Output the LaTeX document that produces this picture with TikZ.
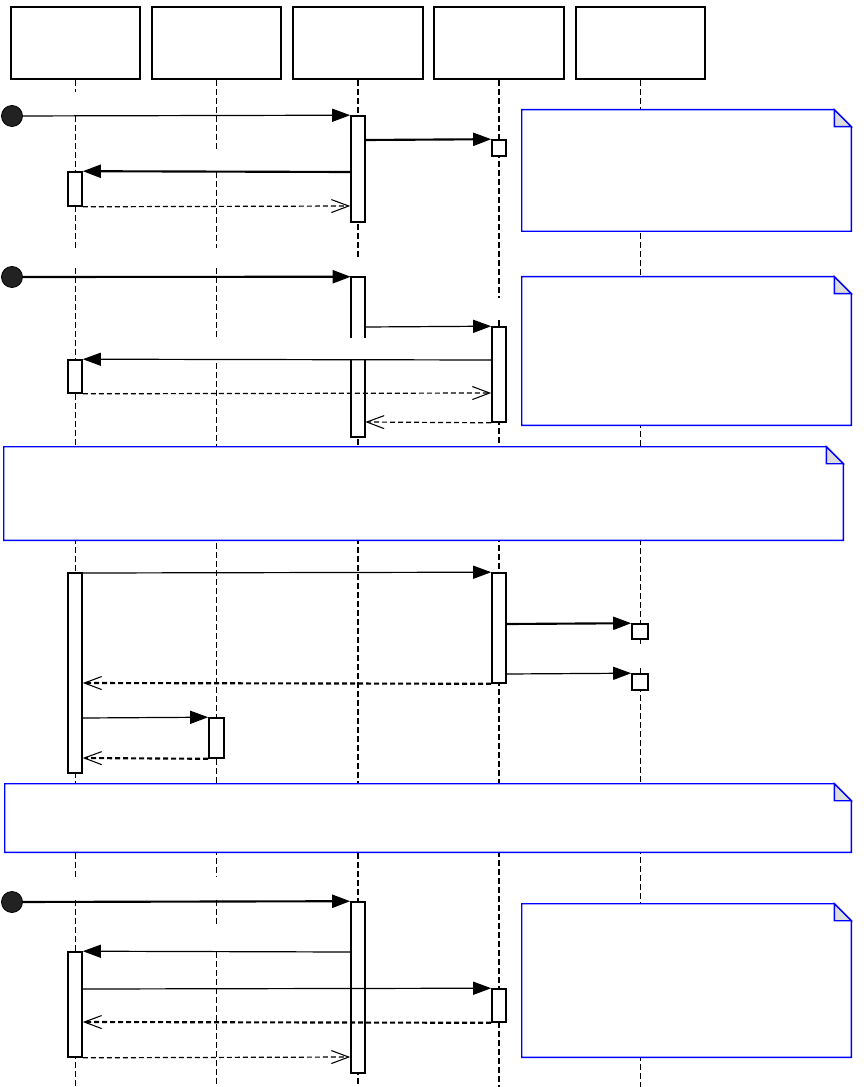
\documentclass[tikz,border=0pt]{standalone}
\usetikzlibrary{arrows.meta,fit}
\definecolor{noteblue}{RGB}{0,0,255}
\definecolor{foldgray}{RGB}{221,221,221}
\definecolor{startfill}{RGB}{34,34,34}
\tikzset{
  participant/.style={draw=black, line width=1.4pt, fill=white, inner sep=0pt},
  actbox/.style={draw=black, line width=1.2pt, fill=white, inner sep=0pt},
  actfill/.style={fill=white, inner sep=0pt},
  actline/.style={draw=black, line width=1.2pt},
  lifeline/.style={draw=black, line width=1.4pt, dash pattern=on 4.5pt off 2.25pt},
  lifethin/.style={draw=black, line width=0.9pt, dash pattern=on 4.5pt off 2.25pt},
  startdot/.style={circle, draw=black, fill=startfill, minimum size=15.75pt, inner sep=0pt, line width=0.6pt},
  msg/.style={draw=black, line width=0.9pt, -{Triangle[length=13.5pt,width=9.75pt]}},
  msgbold/.style={msg, line width=1.6pt},
  reply/.style={draw=black, line width=0.9pt, dash pattern=on 3.75pt off 2.25pt,
    -{Straight Barb[length=13pt,width=9.75pt,line width=0.8pt]}},
  replybold/.style={reply, line width=1.6pt},
  notebody/.style={draw=noteblue, line width=1.1pt, fill=white, line join=miter},
  notefold/.style={draw=noteblue, line width=1.1pt, fill=foldgray, line join=miter},
  noteframe/.style={inner sep=0pt},
}
\newcommand\umlnote[1]{%
  \draw[notebody] (#1.north west) -- ([xshift=-12.75pt]#1.north east)
    -- ([yshift=-12.75pt]#1.north east) -- (#1.south east) -- (#1.south west) -- cycle;
  \draw[notefold] ([xshift=-12.75pt]#1.north east) -- ([xshift=-12.75pt,yshift=-12.75pt]#1.north east)
    -- ([yshift=-12.75pt]#1.north east) -- cycle;
}
\begin{document}
\begin{tikzpicture}[x=0.75pt,y=-0.75pt]
\useasboundingbox (0,0) rectangle (863,1087);

% participants
\node[participant, fit={(11,7)(140,79)}] (P1) {};
\node[participant, fit={(152,7)(281,79)}] (P2) {};
\node[participant, fit={(293,7)(423,79)}] (P3) {};
\node[participant, fit={(434,7)(564,79)}] (P4) {};
\node[participant, fit={(576,7)(705,79)}] (P5) {};

% lifelines (with gaps)
\draw[lifeline] (P1.south) -- (P1.south |- 0,92)
  (P1.south |- 0,116) -- (P1.south |- 0,248)
  (P1.south |- 0,268) -- (P1.south |- 0,877)
  (P1.south |- 0,900) -- (P1.south |- 0,1087);
\draw[lifeline] (P2.south) -- (P2.south |- 0,150)
  (P2.south |- 0,172) -- (P2.south |- 0,248)
  (P2.south |- 0,268) -- (P2.south |- 0,338)
  (P2.south |- 0,363) -- (P2.south |- 0,877)
  (P2.south |- 0,900) -- (P2.south |- 0,927)
  (P2.south |- 0,952) -- (P2.south |- 0,1087);
\draw[lifeline] (P3.south) -- (P3.south |- 0,257)
  (P3.south |- 0,277) -- (P3.south |- 0,1087);
\draw[lifeline] (P4.south) -- (P4.south |- 0,298)
  (P4.south |- 0,320) -- (P4.south |- 0,1087);
\draw[lifethin] (P5.south) -- (P5.south |- 0,646)
  (P5.south |- 0,668) -- (P5.south |- 0,1087);

% activations
\node[actbox, fit={(351,116)(365,222)}] (A1) {};
\node[actbox, fit={(492,140)(506,156)}] (B1) {};
\node[actbox, fit={(68,172)(82,206)}] (C1) {};

\node[actfill, fit={(351,277)(365,437)}] (A2) {};
\draw[actline] (A2.west |- 0,338) -- (A2.north west) -- (A2.north east) -- (A2.east |- 0,338);
\draw[actline] (A2.west |- 0,360) -- (A2.south west) -- (A2.south east) -- (A2.east |- 0,360);
\node[actbox, fit={(492,327)(506,422)}] (B2) {};
\node[actbox, fit={(68,360)(82,393)}] (C2) {};

\node[actbox, fit={(68,573)(82,773)}] (C3) {};
\node[actbox, fit={(492,573)(506,683)}] (B3) {};
\node[actbox, fit={(632,624)(648,639)}] (E1) {};
\node[actbox, fit={(632,674)(648,690)}] (E2) {};
\node[actbox, fit={(209,718)(224,758)}] (D1) {};

\node[actbox, fit={(351,902)(365,1073)}] (A4) {};
\node[actbox, fit={(68,952)(82,1057)}] (C4) {};
\node[actbox, fit={(492,989)(506,1022)}] (B4) {};

% start points
\node[startdot] (S1) at (12,116) {};
\node[startdot] (S2) at (12,277) {};
\node[startdot] (S4) at (12,902) {};

% section 1
\draw[msg] (S1) -- (A1.north west);
\draw[msgbold] (A1.east |- 0,140) -- (B1.north west);
\draw[msgbold] (A1.west |- 0,172) -- (C1.north east);
\draw[reply] (C1.south east) -- (A1.west |- 0,206);

% section 2
\draw[msgbold] (S2) -- (A2.north west);
\draw[msg] (A2.east |- 0,327) -- (B2.north west);
\draw[msg] (B2.west |- 0,360) -- (C2.north east);
\draw[reply] (C2.south east) -- (B2.west |- 0,393);
\draw[reply] (B2.south west) -- (A2.east |- 0,422);

% section 3
\draw[msg] (C3.east |- 0,573) -- (B3.north west);
\draw[msgbold] (B3.east |- 0,624) -- (E1.north west);
\draw[msg] (B3.east |- 0,674) -- (E2.north west);
\draw[replybold] (B3.south west) -- (C3.east |- 0,683);
\draw[msg] (C3.east |- 0,718) -- (D1.north west);
\draw[replybold] (D1.south west) -- (C3.east |- 0,758);

% section 4
\draw[msgbold] (S4) -- (A4.north west);
\draw[msg] (A4.west |- 0,952) -- (C4.north east);
\draw[msg] (C4.east |- 0,989) -- (B4.north west);
\draw[replybold] (B4.south west) -- (C4.east |- 0,1022);
\draw[reply] (C4.south east) -- (A4.west |- 0,1057);

% notes
\node[noteframe, fit={(522,110)(851,231)}] (N1) {};
\umlnote{N1}
\node[noteframe, fit={(522,277)(851,425)}] (N2) {};
\umlnote{N2}
\node[noteframe, fit={(4,447)(843,540)}] (N3) {};
\umlnote{N3}
\node[noteframe, fit={(5,784)(851,852)}] (N4) {};
\umlnote{N4}
\node[noteframe, fit={(522,904)(851,1057)}] (N5) {};
\umlnote{N5}
\end{tikzpicture}
\end{document}
